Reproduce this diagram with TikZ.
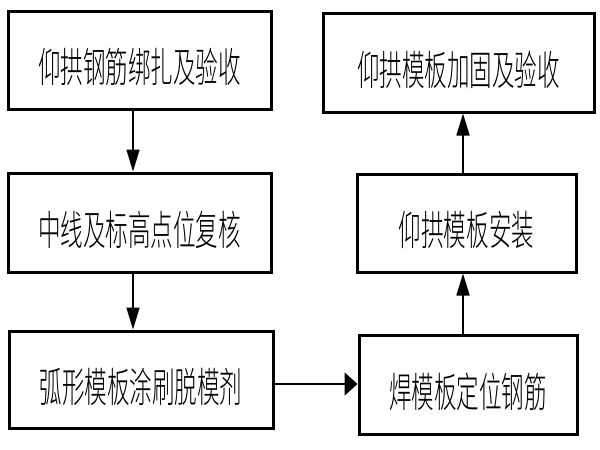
\documentclass[tikz,border=0pt]{standalone}
\usepackage{fontspec}
\newfontfamily\cjk[FakeStretch=0.55]{Noto Sans CJK SC Light}
\newcommand\steptext[1]{\raisebox{-7pt}[\height][\depth]{#1}}
\usetikzlibrary{arrows.meta}
\begin{document}
\begin{tikzpicture}[x=1pt,y=-1pt,
  stepbox/.style={draw, line width=3pt, minimum height=#1, inner sep=0pt, font=\cjk\fontsize{41}{43}\selectfont},
  varr/.style={line width=1.6pt, -{Triangle[length=22pt,width=13pt]}},
  harr/.style={line width=1.8pt, -{Triangle[length=13pt,width=23pt]}}]
\useasboundingbox (0,0) rectangle (600,450);
\node[stepbox=98pt, minimum width=263pt] (b1) at (139.5,60) {\steptext{仰拱钢筋绑扎及验收}};
\node[stepbox=99pt, minimum width=263pt] (b2) at (139.5,222.5) {\steptext{中线及标高点位复核}};
\node[stepbox=97pt, minimum width=264pt] (b3) at (141,379.5) {\steptext{弧形模板涂刷脱模剂}};
\node[stepbox=99pt, minimum width=271pt] (b4) at (458.5,62.5) {\steptext{仰拱模板加固及验收}};
\node[stepbox=98pt, minimum width=219pt] (b5) at (466.5,223) {\steptext{仰拱模板安装}};
\node[stepbox=99pt, minimum width=218pt] (b6) at (468,384.5) {\steptext{焊模板定位钢筋}};
\coordinate (lx) at (133,0);
\coordinate (rx) at (463,0);
\coordinate (hy) at (0,384);
\draw[varr] (b1.south -| lx) -- (b2.north -| lx);
\draw[varr] (b2.south -| lx) -- (b3.north -| lx);
\draw[harr] (b3.east |- hy) -- (b6.west |- hy);
\draw[varr] (b6.north -| rx) -- (b5.south -| rx);
\draw[varr] (b5.north -| rx) -- (b4.south -| rx);
\end{tikzpicture}
\end{document}
